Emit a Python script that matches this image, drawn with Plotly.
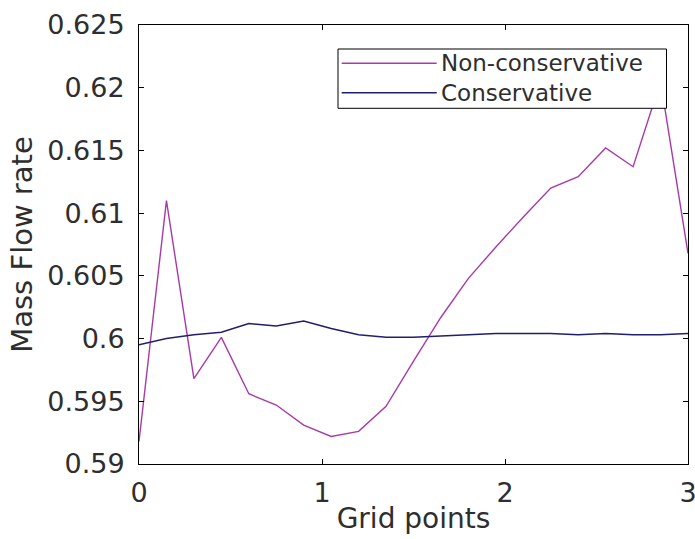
import plotly.graph_objects as go

# ---- data ----
grid_x = [0.0, 0.15, 0.3, 0.45, 0.6, 0.75, 0.9, 1.05, 1.2, 1.35, 1.5,
          1.65, 1.8, 1.95, 2.1, 2.25, 2.4, 2.55, 2.7, 2.85, 3.0]
non_conservative = [0.5918, 0.6110, 0.5968, 0.6001, 0.5956, 0.5947, 0.5931,
                    0.5922, 0.5926, 0.5946, 0.5982, 0.6017, 0.6048, 0.6073,
                    0.6097, 0.6120, 0.6129, 0.6152, 0.6137, 0.6205, 0.6068]
conservative = [0.5995, 0.6000, 0.6003, 0.6005, 0.6012, 0.6010, 0.6014,
                0.6008, 0.6003, 0.6001, 0.6001, 0.6002, 0.6003, 0.6004,
                0.6004, 0.6004, 0.6003, 0.6004, 0.6003, 0.6003, 0.6004]
series_names = ["Non-conservative", "Conservative"]
x_ticks = [0, 1, 2, 3]
x_ticktext = ["0", "1", "2", "3"]
y_ticks = [0.59, 0.595, 0.6, 0.605, 0.61, 0.615, 0.62, 0.625]
y_ticktext = ["0.59", "0.595", "0.6", "0.605", "0.61", "0.615", "0.62", "0.625"]

W, H = 695, 539
L, R, T, B = 139, 7, 25, 75
FONT = "DejaVu Sans"
TXT = "#2e2e2e"
c_non = "#a83aa8"
c_con = "#1f1f70"

fig = go.Figure()
fig.add_trace(go.Scatter(x=grid_x, y=non_conservative, mode="lines",
                         name=series_names[0],
                         line=dict(color=c_non, width=1.4), showlegend=False))
fig.add_trace(go.Scatter(x=grid_x, y=conservative, mode="lines",
                         name=series_names[1],
                         line=dict(color=c_con, width=1.6), showlegend=False))

axis_common = dict(showline=True, linecolor="black", linewidth=1, mirror="ticks",
                   ticks="inside", ticklen=5, tickcolor="black", showgrid=False,
                   zeroline=False, ticklabeloverflow="allow", automargin=False,
                   tickfont=dict(family=FONT, size=27, color=TXT))

fig.update_xaxes(range=[0, 3], tickvals=x_ticks, ticktext=x_ticktext,
                 ticklabelstandoff=5,
                 title=dict(text="Grid points", standoff=0,
                            font=dict(family=FONT, size=28, color=TXT)),
                 **axis_common)
fig.update_yaxes(range=[0.59, 0.625], tickvals=y_ticks, ticktext=y_ticktext,
                 ticklabelstandoff=8,
                 title=dict(text="Mass Flow rate", standoff=6,
                            font=dict(family=FONT, size=29, color=TXT)),
                 **axis_common)

# ---- manual legend (matlab style, long sample lines) ----
pw = W - L - R
ph = H - T - B
def px(xp):
    return (xp - L) / pw
def py(yp):
    return (H - B - yp) / ph

shapes = [dict(type="rect", xref="paper", yref="paper",
               x0=px(338), x1=px(666.5), y0=py(108.3), y1=py(49),
               line=dict(color="black", width=1), fillcolor="white", layer="above")]
annos = []
for i, (nm, col, wd) in enumerate([(series_names[0], c_non, 1.4),
                                   (series_names[1], c_con, 1.6)]):
    yy = [63.3, 92.7][i]
    shapes.append(dict(type="line", xref="paper", yref="paper",
                       x0=px(341.7), x1=px(436.7), y0=py(yy), y1=py(yy),
                       line=dict(color=col, width=wd), layer="above"))
    annos.append(dict(xref="paper", yref="paper", x=px(439), y=py(yy),
                      xanchor="left", yanchor="middle", showarrow=False,
                      text=nm, font=dict(family=FONT, size=23, color=TXT)))

fig.update_layout(width=W, height=H, margin=dict(l=L, r=R, t=T, b=B, autoexpand=False),
                  plot_bgcolor="white", paper_bgcolor="white",
                  shapes=shapes, annotations=annos)

fig.write_html("out.html")
